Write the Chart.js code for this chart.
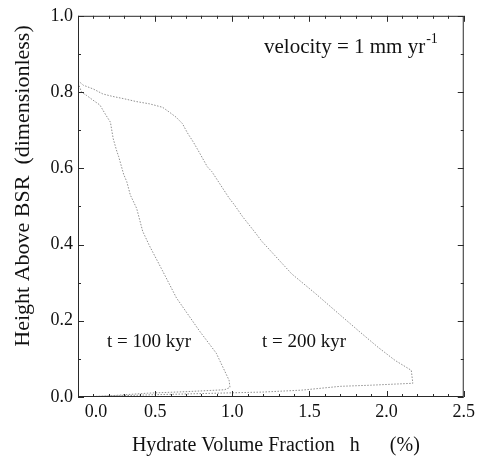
<!DOCTYPE html>
<html>
<head>
<meta charset="utf-8">
<script src="https://cdn.jsdelivr.net/npm/chart.js@4/dist/chart.umd.min.js"></script>
<style>
    html, body { margin: 0; padding: 0; background: #fff; }
    #wrap { width: 479px; height: 462px; }
</style>
</head>
<body>
<div id="wrap"><canvas id="hydrate"></canvas></div>
<script>

//
// data
//

const hydrate100 = [0, 0.024, 0.056, 0.11, 0.142, 0.18, 0.21, 0.228, 0.249, 0.264, 0.296, 0.316, 0.339, 0.38, 0.419,
    0.464, 0.548, 0.638, 0.786, 0.896, 0.979, 0.985, 0.95, 0.7, 0.45, 0.2, 0];
const height100 = [0.824, 0.799, 0.791, 0.775, 0.766, 0.74, 0.721, 0.678, 0.648, 0.63, 0.584, 0.565, 0.53, 0.495, 0.435,
    0.396, 0.331, 0.26, 0.174, 0.115, 0.044, 0.025, 0.019, 0.014, 0.01, 0.003, 0];

const hydrate200 = [0, 0.034, 0.099, 0.161, 0.219, 0.303, 0.378, 0.464, 0.548, 0.593, 0.636, 0.677, 0.709, 0.747, 0.78,
    0.838, 0.868, 0.979, 1.012, 1.065, 1.108, 1.151, 1.19, 1.385, 1.54, 1.688, 1.817, 1.946, 2.055, 2.16,
    2.17, 1.9, 1.7, 1.45, 1.2, 0.9, 0.5, 0];
const height200 = [0.83, 0.818, 0.808, 0.795, 0.789, 0.782, 0.775, 0.769, 0.76, 0.747, 0.734, 0.717, 0.693, 0.669, 0.646,
    0.604, 0.591, 0.522, 0.505, 0.474, 0.452, 0.43, 0.409, 0.323, 0.271, 0.219, 0.174, 0.13, 0.096, 0.07,
    0.036, 0.031, 0.028, 0.018, 0.013, 0.01, 0.006, 0];

const xTicks = [0, 0.5, 1.0, 1.5, 2.0, 2.5];
const yTicks = [0, 0.2, 0.4, 0.6, 0.8, 1.0];

const labels = [
    { text: "t = 100 kyr", x: 107, y: 342 },
    { text: "t = 200 kyr", x: 262, y: 342 }
];

const SERIF = "'Liberation Serif', 'DejaVu Serif', serif";

function toPoints(xs, ys) {
    return xs.map((v, i) => ({ x: v, y: ys[i] }));
}

//
// frame, inward ticks and text annotations
//

const framePlugin = {
    id: "frame",

    afterDatasetsDraw(chart) {

        const { ctx, chartArea: { left, right, top, bottom }, scales: { x, y } } = chart;

        ctx.save();

        ctx.strokeStyle = "#2a2a2a";
        ctx.lineWidth = 1;
        ctx.strokeRect(left + 0.5, top + 0.5, right - left - 1, bottom - top - 1);

        ctx.beginPath();
        for (let v = 0; v <= 2.5001; v += 0.1) {
            const px = Math.round(x.getPixelForValue(v)) + 0.5;
            const len = Math.abs(v * 2 - Math.round(v * 2)) < 0.001 ? 6 : 3;
            ctx.moveTo(px, bottom);
            ctx.lineTo(px, bottom - len);
            ctx.moveTo(px, top);
            ctx.lineTo(px, top + len);
        }
        for (let v = 0; v <= 1.0001; v += 0.1) {
            const py = Math.round(y.getPixelForValue(v)) + 0.5;
            const len = Math.abs(v * 5 - Math.round(v * 5)) < 0.001 ? 6 : 3;
            ctx.moveTo(left, py);
            ctx.lineTo(left + len, py);
            ctx.moveTo(right, py);
            ctx.lineTo(right - len, py);
        }
        ctx.stroke();

        // annotations
        ctx.fillStyle = "#111";
        ctx.textBaseline = "middle";
        ctx.textAlign = "left";
        ctx.font = "19px " + SERIF;
        labels.forEach(l => ctx.fillText(l.text, l.x, l.y));

        ctx.font = "21px " + SERIF;
        ctx.textBaseline = "alphabetic";
        const base = "velocity = 1 mm yr";
        ctx.fillText(base, 264, 53);
        const w = ctx.measureText(base).width;
        ctx.font = "14px " + SERIF;
        ctx.fillText("-1", 264 + w + 1, 43);

        // y axis title
        ctx.translate(23, 186);
        ctx.rotate(-Math.PI / 2);
        ctx.font = "22px " + SERIF;
        ctx.textAlign = "center";
        ctx.textBaseline = "middle";
        ctx.fillText("Height Above BSR  (dimensionless)", 0, 0);

        ctx.restore();
    }
};

Chart.register(framePlugin);

const lineStyle = {
    showLine: true,
    pointRadius: 0,
    borderColor: "#909090",
    borderWidth: 1,
    borderDash: [1.5, 1.5],
    tension: 0
};

new Chart(document.getElementById("hydrate"), {
    type: "scatter",

    data: {
        datasets: [
            { label: "t = 100 kyr", data: toPoints(hydrate100, height100), ...lineStyle },
            { label: "t = 200 kyr", data: toPoints(hydrate200, height200), ...lineStyle }
        ]
    },

    options: {
        responsive: true,
        maintainAspectRatio: false,
        animation: false,

        layout: {
            padding: { left: 0, right: 13, top: 13, bottom: 0 }
        },

        plugins: {
            legend: { display: false },
            tooltip: { enabled: false }
        },

        scales: {
            x: {
                type: "linear",
                min: 0,
                max: 2.5,
                afterFit: s => { s.height = 65; },
                afterBuildTicks: s => { s.ticks = xTicks.map(v => ({ value: v })); },
                grid: { display: false, drawTicks: false },
                border: { display: false },
                ticks: {
                    padding: 4,
                    color: "#111",
                    font: { family: SERIF, size: 18 },
                    maxRotation: 0,
                    callback: v => v === 0 ? "        0.0" : v.toFixed(1)
                },
                title: {
                    display: true,
                    text: "  Hydrate Volume Fraction   h      (%)",
                    color: "#111",
                    font: { family: SERIF, size: 20 },
                    padding: { top: 0, bottom: 4 }
                }
            },

            y: {
                type: "linear",
                min: 0,
                max: 1,
                afterFit: s => { s.width = 78; },
                afterBuildTicks: s => { s.ticks = yTicks.map(v => ({ value: v })); },
                grid: { display: false, drawTicks: false },
                border: { display: false },
                ticks: {
                    padding: 5,
                    color: "#111",
                    font: { family: SERIF, size: 18 },
                    callback: v => v.toFixed(1)
                }
            }
        }
    }
});
</script>
</body>
</html>
